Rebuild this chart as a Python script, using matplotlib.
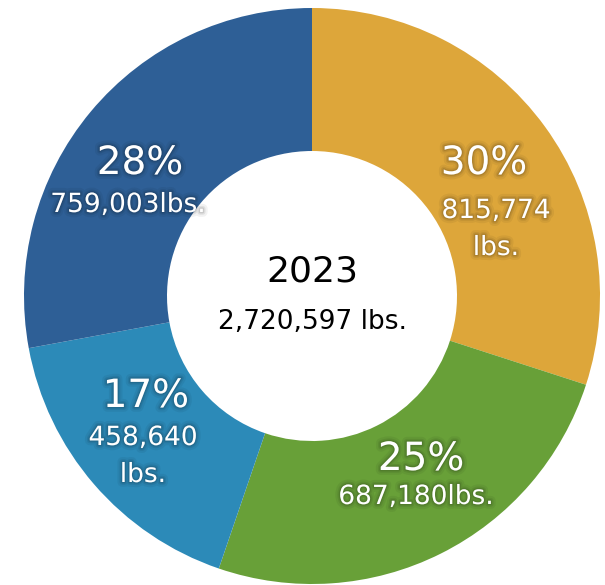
import matplotlib.pyplot as plt
import matplotlib.patheffects as pe

# pounds per group, clockwise from 12 o'clock
values = [815774, 687180, 458640, 759003]
colors = ['#DDA63A', '#68A038', '#2C8AB8', '#2E5F96']
pct_labels = ['30%', '25%', '17%', '28%']
lbs_labels = [['815,774', 'lbs.'], ['687,180lbs.'], ['458,640', 'lbs.'], ['759,003lbs.']]
year = '2023'
total_label = '2,720,597 lbs.'

W, H = 605, 585
cx, cy = 312, H - 296
r_out, r_in = 288, 145

fig = plt.figure(figsize=(W / 100, H / 100), dpi=100)
ax = fig.add_axes([0, 0, 1, 1])

wedges, _ = ax.pie(
    values, colors=colors, startangle=90, counterclock=False,
    center=(cx, cy), radius=r_out,
    wedgeprops=dict(width=r_out - r_in, linewidth=0),
    )
ax.set_xlim(0, W)
ax.set_ylim(0, H)
ax.axis('off')

# soft dark glow behind the white labels
glow = [
    pe.Stroke(linewidth=7, foreground='black', alpha=0.05),
    pe.Stroke(linewidth=4, foreground='black', alpha=0.07),
    pe.Stroke(linewidth=2, foreground='black', alpha=0.1),
    pe.Normal(),
    ]

# label blocks: (x, y) of the percent line in pixels from top-left
label_pos = [(484, 163), (421, 459), (146, 396), (140, 163)]
sub_pos = [(496, 211), (416, 497), (143, 438), (128, 205)]

for i in range(len(values)):
    px, py = label_pos[i]
    ax.text(px, H - py, pct_labels[i], color='white', fontsize=28,
            family='DejaVu Sans', ha='center', va='center',
            path_effects=glow)
    sx, sy = sub_pos[i]
    for j, line in enumerate(lbs_labels[i]):
        ax.text(sx, H - sy - j * 37, line, color='white', fontsize=19,
                family='DejaVu Sans', ha='center',
                va='center', path_effects=glow)

ax.text(cx, H - 272, year, color='black', fontsize=26, family='DejaVu Sans',
        ha='center', va='center')
ax.text(cx + 1, H - 322, total_label, color='black', fontsize=19,
        family='DejaVu Sans', ha='center', va='center')

fig.savefig('out.png', dpi=100)
